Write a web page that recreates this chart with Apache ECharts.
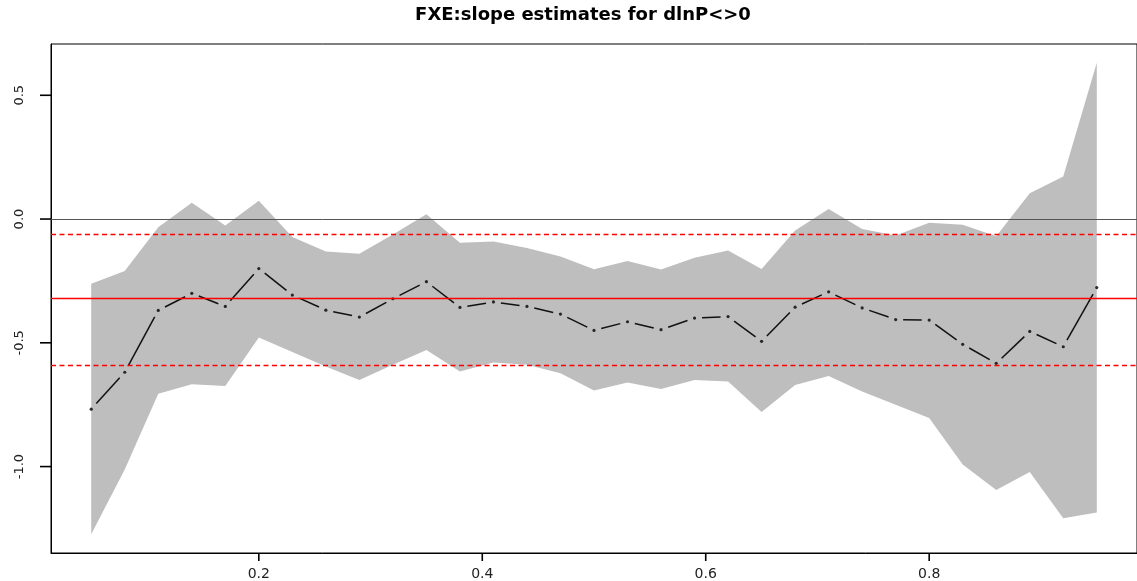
<!DOCTYPE html>
<html>
<head>
<meta charset="utf-8">
<script src="https://cdn.jsdelivr.net/npm/echarts@6/dist/echarts.min.js"></script>
<style>
html,body{margin:0;padding:0;background:#fff;}
#chart{width:1137px;height:581px;}
</style>
</head>
<body>
<div id="chart"></div>
<script>
// ---- data ----
const taus = [0.05,0.08,0.11,0.14,0.17,0.20,0.23,0.26,0.29,0.32,0.35,0.38,0.41,0.44,0.47,0.50,0.53,0.56,0.59,0.62,0.65,0.68,0.71,0.74,0.77,0.80,0.83,0.86,0.89,0.92,0.95];
const estimates = [-0.768,-0.619,-0.369,-0.300,-0.353,-0.200,-0.307,-0.368,-0.396,-0.322,-0.253,-0.357,-0.335,-0.353,-0.384,-0.450,-0.415,-0.447,-0.400,-0.394,-0.494,-0.356,-0.294,-0.359,-0.406,-0.408,-0.506,-0.583,-0.454,-0.516,-0.277];
const upper = [-0.261,-0.210,-0.033,0.066,-0.026,0.074,-0.073,-0.131,-0.140,-0.062,0.019,-0.096,-0.091,-0.117,-0.151,-0.203,-0.170,-0.204,-0.156,-0.127,-0.202,-0.046,0.041,-0.040,-0.066,-0.015,-0.023,-0.070,0.104,0.172,0.631];
const lower = [-1.273,-1.012,-0.706,-0.667,-0.674,-0.479,-0.537,-0.596,-0.650,-0.589,-0.529,-0.616,-0.580,-0.589,-0.623,-0.693,-0.660,-0.687,-0.650,-0.656,-0.780,-0.670,-0.634,-0.697,-0.750,-0.804,-0.992,-1.095,-1.022,-1.209,-1.186];
const olsEstimate = -0.318;
const olsCiUpper = -0.055;
const olsCiLower = -0.586;
const zeroLine = 0;
const xTicks = [0.2, 0.4, 0.6, 0.8];
const yTicks = [-1.0, -0.5, 0.0, 0.5];
const titleText = 'FXE:slope estimates for dlnP<>0';

// R-style axis extension (4%)
const xLo = Math.min(...taus), xHi = Math.max(...taus);
const yLo = Math.min(...lower), yHi = Math.max(...upper);
const xPad = 0.04 * (xHi - xLo), yPad = 0.04 * (yHi - yLo);
const xMin = xLo - xPad, xMax = xHi + xPad;
const yMin = yLo - yPad, yMax = yHi + yPad;

const chart = echarts.init(document.getElementById('chart'), null, {renderer: 'canvas'});

const bandData = taus.map((t, i) => [t, lower[i], upper[i]]);
const estData = taus.map((t, i) => [t, estimates[i]]);

const option = {
  animation: false,
  backgroundColor: '#ffffff',
  graphic: [{
    id: 'title',
    type: 'text',
    x: 583, y: 15,
    silent: true,
    style: {
      text: titleText,
      fontFamily: 'DejaVu Sans', fontWeight: 'bold', fontSize: 18,
      fill: '#000', textAlign: 'center', textVerticalAlign: 'middle'
    }
  }],
  grid: {
    left: 51, top: 44, width: 1093, height: 509,
    show: true, borderColor: '#000', borderWidth: 1, backgroundColor: 'transparent'
  },
  xAxis: {
    type: 'value',
    min: xMin, max: xMax,
    splitLine: {show: false},
    axisLine: {show: true, onZero: false, lineStyle: {color: '#000', width: 1}},
    axisTick: {show: false},
    axisLabel: {
      customValues: xTicks, margin: 14,
      fontFamily: 'DejaVu Sans', fontSize: 14, color: '#222',
      formatter: v => v.toFixed(1)
    }
  },
  yAxis: {
    type: 'value',
    min: yMin, max: yMax,
    splitLine: {show: false},
    axisLine: {show: true, onZero: false, lineStyle: {color: '#000', width: 1}},
    axisTick: {show: false},
    axisLabel: {
      customValues: yTicks, margin: 25, rotate: 90,
      fontFamily: 'DejaVu Sans', fontSize: 13, color: '#222',
      formatter: v => v.toFixed(1)
    }
  },
  series: [
    {
      type: 'custom',
      name: 'band',
      data: bandData,
      silent: true,
      z: 1,
      renderItem: function (params, api) {
        if (params.dataIndex !== 0) return null;
        const pts = [];
        for (let i = 0; i < bandData.length; i++) pts.push(api.coord([bandData[i][0], bandData[i][2]]));
        for (let i = bandData.length - 1; i >= 0; i--) pts.push(api.coord([bandData[i][0], bandData[i][1]]));
        return {type: 'polygon', shape: {points: pts}, style: {fill: '#bebebe', stroke: null}};
      }
    },
    {
      type: 'line',
      name: 'refs',
      data: [],
      z: 2,
      markLine: {
        silent: true,
        symbol: 'none',
        label: {show: false},
        data: [
          {yAxis: zeroLine, lineStyle: {color: '#555', width: 1, type: 'solid'}},
          {yAxis: olsEstimate, lineStyle: {color: '#ff0000', width: 1.3, type: 'solid'}},
          {yAxis: olsCiUpper, lineStyle: {color: '#ff0000', width: 1.3, type: [5, 3.5]}},
          {yAxis: olsCiLower, lineStyle: {color: '#ff0000', width: 1.3, type: [5, 3.5]}}
        ]
      }
    },
    {
      type: 'custom',
      name: 'segments',
      data: estData,
      silent: true,
      z: 3,
      renderItem: function (params, api) {
        const i = params.dataIndex;
        if (i >= estData.length - 1) return null;
        const p0 = api.coord(estData[i]);
        const p1 = api.coord(estData[i + 1]);
        const dx = p1[0] - p0[0], dy = p1[1] - p0[1];
        const len = Math.sqrt(dx * dx + dy * dy);
        const gap = 7.5;
        if (len <= 2 * gap) return null;
        const ux = dx / len, uy = dy / len;
        return {
          type: 'line',
          shape: {x1: p0[0] + ux * gap, y1: p0[1] + uy * gap, x2: p1[0] - ux * gap, y2: p1[1] - uy * gap},
          style: {stroke: '#111', lineWidth: 1.5}
        };
      }
    },
    {
      type: 'scatter',
      name: 'points',
      data: estData,
      symbol: 'circle',
      symbolSize: 3.2,
      itemStyle: {color: '#000'},
      z: 4,
      silent: true
    }
  ]
};
chart.setOption(option);

// Outward tick marks, positioned through the chart's own axis scales
const tickGraphics = [];
xTicks.forEach((v, i) => {
  const p = chart.convertToPixel({gridIndex: 0}, [v, yMin]);
  tickGraphics.push({
    id: 'xt' + i, type: 'line', silent: true, z: 10,
    shape: {x1: p[0], y1: p[1], x2: p[0], y2: p[1] + 8},
    style: {stroke: '#000', lineWidth: 1.6}
  });
});
yTicks.forEach((v, i) => {
  const p = chart.convertToPixel({gridIndex: 0}, [xMin, v]);
  tickGraphics.push({
    id: 'yt' + i, type: 'line', silent: true, z: 10,
    shape: {x1: p[0], y1: p[1], x2: p[0] - 11, y2: p[1]},
    style: {stroke: '#000', lineWidth: 1.6}
  });
});
chart.setOption({graphic: tickGraphics});
</script>
</body>
</html>
